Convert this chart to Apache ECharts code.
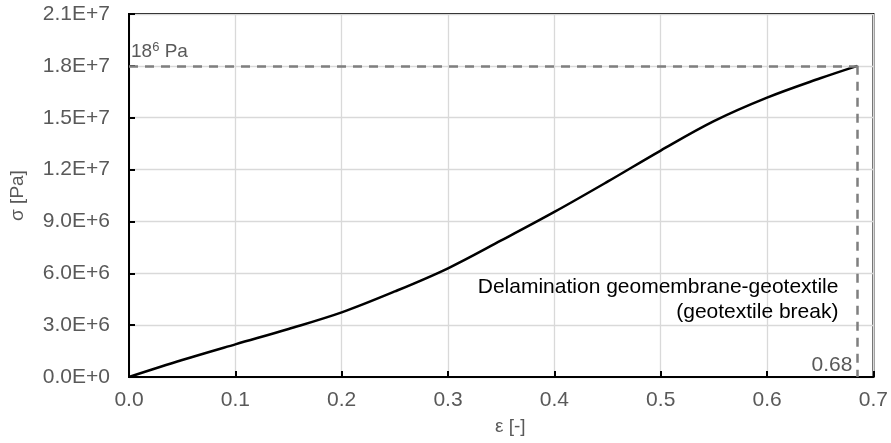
<!DOCTYPE html>
<html>
<head>
<meta charset="utf-8">
<script src="https://cdn.jsdelivr.net/npm/echarts@6/dist/echarts.min.js"></script>
<style>html,body{margin:0;padding:0;background:#fff}#c{width:891px;height:443px}</style>
</head>
<body>
<div id="c"></div>
<script>
// Strain values (ε [-])
var strain = [0, 0.05, 0.1, 0.15, 0.2, 0.25, 0.3, 0.35, 0.4, 0.45, 0.5, 0.55, 0.6, 0.65, 0.685];
// Stress values (σ [Pa])
var stress = [0, 0.98e6, 1.89e6, 2.78e6, 3.74e6, 4.95e6, 6.29e6, 7.9e6, 9.55e6, 11.3e6, 13.1e6, 14.8e6, 16.16e6, 17.28e6, 18.0e6];
// Break point
var breakStrain = 0.685;
var breakStress = 1.8e7;
var breakLabel = '0.68';
var annotationLines = ['Delamination geomembrane-geotextile', '(geotextile break)'];
var xName = 'ε [-]';
var yName = 'σ [Pa]';

var font = 'Liberation Sans, Arial, sans-serif';
var curve = strain.map(function (e, i) { return [e, stress[i]]; });

var chart = echarts.init(document.getElementById('c'), null, {renderer: 'canvas'});
chart.setOption({
  animation: false,
  backgroundColor: '#fff',
  grid: {left: 126, right: 16, top: 14, bottom: 66, show: true, borderColor: '#000', borderWidth: 2, backgroundColor: 'transparent'},
  xAxis: {
    type: 'value', min: 0, max: 0.7, interval: 0.1,
    name: xName, nameLocation: 'middle', nameGap: 40,
    nameTextStyle: {fontFamily: font, fontSize: 19, color: '#595959', padding: [0, 0, 0, 18]},
    axisLine: {show: true, onZero: false, lineStyle: {color: '#000', width: 2}},
    axisTick: {show: true, inside: true, length: 6, lineStyle: {color: '#000', width: 2}},
    axisLabel: {fontFamily: font, fontSize: 21, color: '#595959', margin: 13, formatter: function (v) { return v.toFixed(1); }},
    splitLine: {show: true, lineStyle: {color: '#d9d9d9', width: 1.3}}
  },
  yAxis: {
    type: 'value', min: 0, max: 2.1e7, interval: 3e6,
    name: yName, nameLocation: 'middle', nameGap: 102,
    nameTextStyle: {fontFamily: font, fontSize: 19, color: '#595959'},
    axisLine: {show: true, lineStyle: {color: '#000', width: 2}},
    axisTick: {show: true, inside: true, length: 6, lineStyle: {color: '#000', width: 2}},
    axisLabel: {fontFamily: font, fontSize: 21, color: '#595959', margin: 19, formatter: function (v) {
      if (v === 0) return '0.0E+0';
      var e = Math.floor(Math.log10(v));
      var m = v / Math.pow(10, e);
      return m.toFixed(1) + 'E+' + e;
    }},
    splitLine: {show: true, lineStyle: {color: '#d9d9d9', width: 1.3}}
  },
  series: [{
    type: 'line',
    data: curve,
    smooth: 0.35,
    showSymbol: false,
    symbol: 'none',
    lineStyle: {color: '#000', width: 2.5},
    z: 3,
    markLine: {
      silent: true, symbol: 'none', animation: false,
      lineStyle: {color: '#7f7f7f', width: 2.5, type: [9, 7]},
      label: {show: false},
      data: [
        [{coord: [0, breakStress]}, {coord: [breakStrain, breakStress]}],
        [{coord: [breakStrain, breakStress]}, {coord: [breakStrain, 0]}]
      ]
    },
    markPoint: {
      silent: true, animation: false,
      symbol: 'rect', symbolSize: 0,
      itemStyle: {color: 'transparent'},
      data: [
        {coord: [0, breakStress], label: {show: true, position: [0, 0], align: 'left', verticalAlign: 'bottom', offset: [2, -3],
          formatter: '{n|18}{s|6}{n| Pa}',
          rich: {n: {fontFamily: font, fontSize: 19, color: '#595959', lineHeight: 22}, s: {fontFamily: font, fontSize: 13, color: '#595959', lineHeight: 14, verticalAlign: 'top'}}}},
        {coord: [breakStrain, 0], label: {show: true, position: [0, 0], align: 'right', verticalAlign: 'bottom', offset: [-5, -1],
          formatter: breakLabel, fontFamily: font, fontSize: 21, color: '#595959'}},
        {coord: [breakStrain, 6e6], label: {show: true, position: [0, 0], align: 'right', verticalAlign: 'top', offset: [-19, 1],
          formatter: annotationLines.join('\n'), fontFamily: font, fontSize: 21, lineHeight: 25, color: '#000'}}
      ]
    }
  }]
});
</script>
</body>
</html>
